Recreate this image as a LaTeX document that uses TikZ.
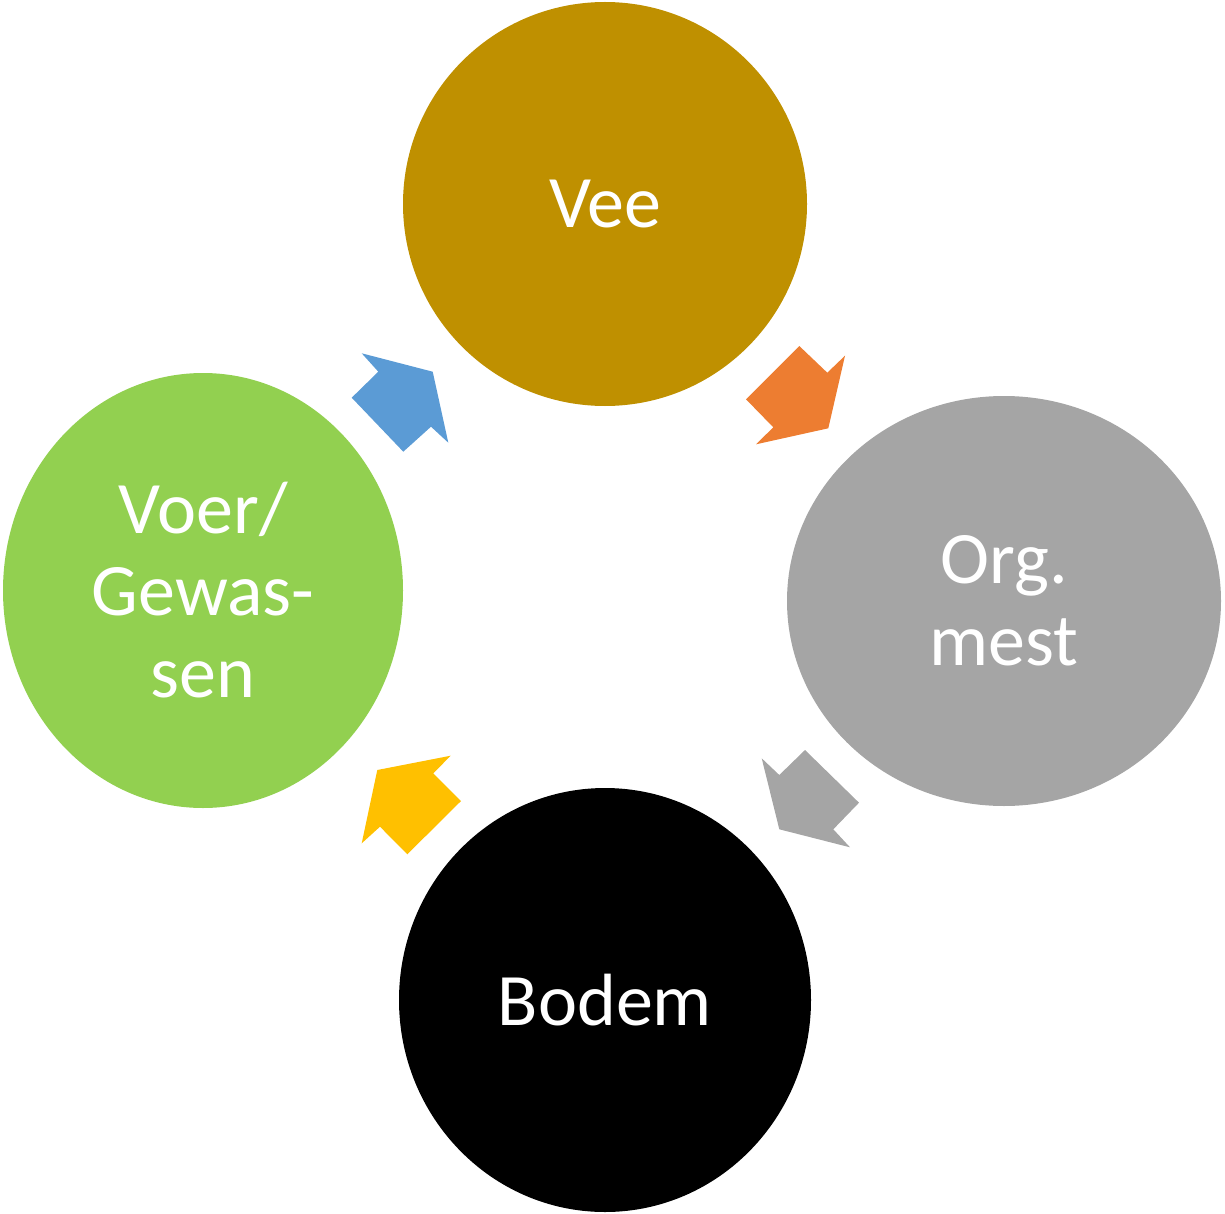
\documentclass[tikz,border=0pt]{standalone}
\usepackage{fontspec}
\setmainfont{Carlito}
\usetikzlibrary{shapes.geometric}
\definecolor{veecol}{HTML}{BF9000}
\definecolor{mestcol}{HTML}{A5A5A5}
\definecolor{voercol}{HTML}{92D050}
\definecolor{arrblue}{HTML}{5B9BD5}
\definecolor{arrorange}{HTML}{ED7D31}
\definecolor{arrgray}{HTML}{A5A5A5}
\definecolor{arryellow}{HTML}{FFC000}
\begin{document}
\begin{tikzpicture}[x=0.5pt,y=-0.5pt,
  blob/.style={ellipse, inner sep=0pt, text=white, align=center,
    font=\fontsize{37}{41}\selectfont},
  blockarrow/.style={draw=none}]
\useasboundingbox (0,0) rectangle (1225,1214);
\node[blob, fill=veecol, minimum width=202pt, minimum height=202pt] (vee) at (605,204) {Vee};
\node[blob, fill=mestcol, minimum width=217pt, minimum height=205pt] (mest) at (1004,601) {Org.\\mest};
\node[blob, fill=black, minimum width=206pt, minimum height=212pt] (bodem) at (605,1000) {Bodem};
\node[blob, fill=voercol, minimum width=200pt, minimum height=217.5pt] (voer) at (203,590.5) {Voer/\\Gewas-\\sen};
% block arrows
\fill[blockarrow, arrblue] (361.7,353.3) -- (378.3,371.7) -- (351.7,397.7) -- (403.3,451.7) -- (431,426.7) -- (448.3,442.7) -- (432.7,371.7) -- cycle;
\fill[blockarrow, arrorange] (799.3,346) -- (827.3,372.7) -- (845,355.7) -- (828.3,428.3) -- (756,444.3) -- (773.3,427.3) -- (746,399.3) -- cycle;
\fill[blockarrow, arrgray] (805,750) -- (859,802.7) -- (833.3,829.3) -- (850,847.3) -- (779.3,829.3) -- (761.7,758.3) -- (779.3,775) -- cycle;
\fill[blockarrow, arryellow] (450.7,755.7) -- (433.3,773.3) -- (461,801) -- (407.3,854.3) -- (380,826.7) -- (361.7,843.3) -- (377.3,770) -- cycle;
\end{tikzpicture}
\end{document}
